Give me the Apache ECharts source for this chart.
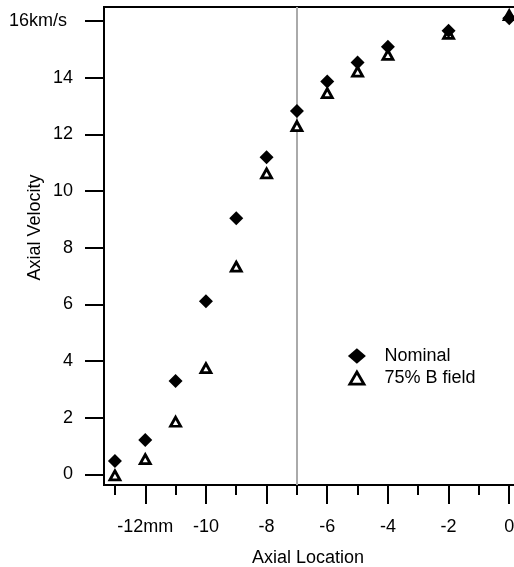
<!DOCTYPE html>
<html><head><meta charset="utf-8">
<script src="https://cdn.jsdelivr.net/npm/echarts@6/dist/echarts.min.js"></script>
<style>html,body{margin:0;padding:0;background:#fff}#c{width:514px;height:567px}</style>
</head><body><div id="c"></div>
<script>
const xPositions = [-13, -12, -11, -10, -9, -8, -7, -6, -5, -4, -2, 0];
const nominal = [0.48, 1.22, 3.3, 6.11, 9.04, 11.19, 12.82, 13.86, 14.53, 15.09, 15.65, 16.09];
const field75 = [-0.03, 0.54, 1.86, 3.75, 7.33, 10.62, 12.29, 13.45, 14.21, 14.8, 15.54, 16.2];
const xTicksMajor = [-12, -10, -8, -6, -4, -2, 0];
const xTicksMinor = [-13, -11, -9, -7, -5, -3, -1];
const yTicks = [0, 2, 4, 6, 8, 10, 12, 14, 16];
const markerLineX = [-7];
const seriesNames = ['Nominal', '75% B field'];
const axisTitles = ['Axial Location', 'Axial Velocity'];

const FONT = "'Liberation Sans', Arial, sans-serif";
const FS = 18;

const chart = echarts.init(document.getElementById('c'));
const pairs = (xs, ys) => xs.map((x, i) => [x, ys[i]]);

chart.setOption({
  animation: false,
  backgroundColor: '#fff',
  textStyle: { fontFamily: FONT },
  grid: { left: 104, top: 7, width: 411, height: 478, outerBoundsMode: 'none', containLabel: false,
    show: true, borderColor: '#000', borderWidth: 2, backgroundColor: 'transparent' },
  xAxis: [{
    type: 'value', min: -13.36, max: 0.19, position: 'bottom',
    splitLine: { show: false },
    axisLine: { show: true, onZero: false, lineStyle: { color: '#000', width: 2 } },
    axisTick: { show: true, customValues: xTicksMajor, length: 19, inside: false, lineStyle: { color: '#000', width: 2 } },
    axisLabel: { customValues: xTicksMajor, margin: 33, color: '#000', fontSize: FS, fontFamily: FONT,
      formatter: v => v === -12 ? '-12mm' : String(v) }
  }, {
    type: 'value', min: -13.36, max: 0.19, position: 'bottom',
    splitLine: { show: false },
    axisLine: { show: false, onZero: false },
    axisTick: { show: true, customValues: xTicksMinor, length: 10, lineStyle: { color: '#000', width: 2 } },
    axisLabel: { show: false }
  }],
  yAxis: {
    type: 'value', min: -0.37, max: 16.49,
    splitLine: { show: false },
    axisLine: { show: true, onZero: false, lineStyle: { color: '#000', width: 2 } },
    axisTick: { show: true, customValues: yTicks, length: 19, lineStyle: { color: '#000', width: 2 } },
    axisLabel: { customValues: yTicks, margin: 31, color: '#000', fontSize: FS, fontFamily: FONT,
      formatter: v => v === 16 ? '{u|16km/s}' : String(v),
      rich: { u: { fontSize: FS, fontFamily: FONT, color: '#000', padding: [0, 6, 0, 0] } } }
  },
  legend: {
    orient: 'vertical', left: 346.5, top: 347, padding: 0, itemGap: 3,
    itemWidth: 18, itemHeight: 18,
    data: [
      { name: seriesNames[0], icon: 'path://M7,1L14,7L7,13L0,7Z', itemStyle: { color: '#000', borderWidth: 0 } },
      { name: seriesNames[1], icon: 'path://M0,0M14,14M7,2L12.5,11.5L1.5,11.5Z', itemStyle: { color: '#fff', borderColor: '#000', borderWidth: 2.8 } }
    ],
    textStyle: { fontSize: FS, fontFamily: FONT, color: '#000', lineHeight: 18, padding: [0, 0, 0, 13.5] }
  },
  graphic: [
    { type: 'text', x: 308, y: 558, style: { text: axisTitles[0], font: FS + 'px ' + FONT, fill: '#000', textAlign: 'center', textVerticalAlign: 'middle' } },
    { type: 'text', x: 35, y: 227.5, rotation: Math.PI / 2, style: { text: axisTitles[1], font: FS + 'px ' + FONT, fill: '#000', textAlign: 'center', textVerticalAlign: 'middle' } }
  ],
  series: [{
    name: seriesNames[1], type: 'scatter', z: 3,
    symbol: 'triangle', symbolSize: [10, 9],
    itemStyle: { color: '#fff', borderColor: '#000', borderWidth: 2.8, opacity: 1 },
    data: pairs(xPositions, field75)
  }, {
    name: seriesNames[0], type: 'scatter', z: 4,
    symbol: 'diamond', symbolSize: [14, 14],
    itemStyle: { color: '#000', opacity: 1 },
    data: pairs(xPositions, nominal),
    markLine: {
      silent: true, symbol: 'none', z: 1, label: { show: false },
      lineStyle: { color: '#aaa', width: 2, type: 'solid' },
      data: markerLineX.map(x => ({ xAxis: x }))
    }
  }]
});
</script>
</body></html>
